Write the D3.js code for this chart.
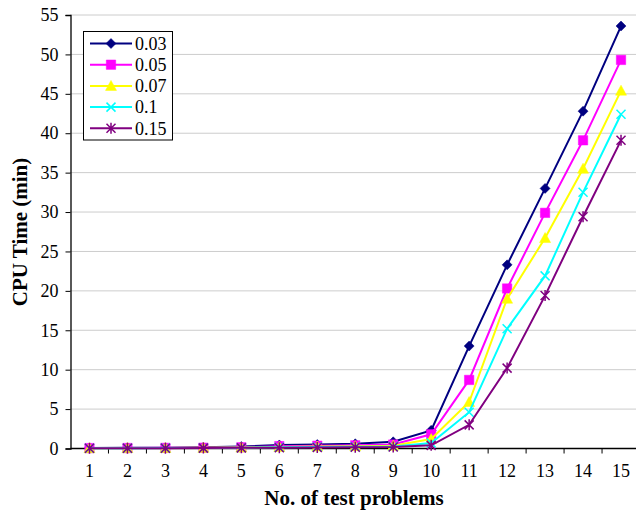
<!DOCTYPE html>
<html>
<head>
<meta charset="utf-8">
<script src="https://cdn.jsdelivr.net/npm/d3@7"></script>
<style>
  body { margin: 0; background: #fff; }
</style>
</head>
<body>
<svg id="chart" width="636" height="514"></svg>
<script>
// data
var problems = [1, 2, 3, 4, 5, 6, 7, 8, 9, 10, 11, 12, 13, 14, 15];
var seriesNames = ["0.03", "0.05", "0.07", "0.1", "0.15"];
var s003 = [0.05, 0.08, 0.1, 0.15, 0.25, 0.45, 0.5, 0.6, 0.85, 2.3, 13.0, 23.3, 33.0, 42.8, 53.6];
var s005 = [0.05, 0.06, 0.08, 0.1, 0.15, 0.3, 0.35, 0.4, 0.5, 1.8, 8.7, 20.3, 29.9, 39.1, 49.3];
var s007 = [0.04, 0.05, 0.07, 0.08, 0.12, 0.2, 0.25, 0.3, 0.35, 1.2, 5.9, 19.0, 26.7, 35.5, 45.4];
var s010 = [0.03, 0.04, 0.05, 0.06, 0.1, 0.15, 0.18, 0.22, 0.25, 0.7, 4.6, 15.2, 21.9, 32.5, 42.4];
var s015 = [0.02, 0.03, 0.04, 0.05, 0.08, 0.1, 0.12, 0.15, 0.2, 0.4, 3.0, 10.2, 19.4, 29.4, 39.1];
var yTicks = [0, 5, 10, 15, 20, 25, 30, 35, 40, 45, 50, 55];

var allSeries = [s003, s005, s007, s010, s015];
var colors = ["#000080", "#ff00ff", "#ffff00", "#00ffff", "#800080"];
var markers = ["diamond", "square", "triangle", "cross", "star"];

var serif = "'Liberation Serif', 'Times New Roman', Times, serif";
var plotLeft = 70.5, plotRight = 640, plotTop = 15, plotBottom = 448.5;

var svg = d3.select("#chart");

var x = d3.scaleBand()
    .domain(problems)
    .range([plotLeft, plotRight])
    .padding(0);

var y = d3.scaleLinear()
    .domain([0, 55])
    .range([plotBottom, plotTop]);

// gridlines
svg.append("g")
    .selectAll("line")
    .data(yTicks.filter(function(d) { return d > 0; }))
    .enter().append("line")
    .attr("x1", plotLeft)
    .attr("x2", plotRight)
    .attr("y1", function(d) { return y(d); })
    .attr("y2", function(d) { return y(d); })
    .attr("stroke", "#999")
    .attr("stroke-width", 1)
    .attr("stroke-dasharray", "1,1");

// y axis
var yAxis = d3.axisLeft(y).tickValues(yTicks).tickSize(5).tickPadding(7);
var gy = svg.append("g")
    .attr("transform", "translate(" + plotLeft + ",0)")
    .call(yAxis);
gy.select(".domain").attr("stroke", "#000").attr("stroke-width", 1.3);
gy.selectAll(".tick line").attr("stroke", "#000");
gy.selectAll(".tick text")
    .style("font-family", serif)
    .style("font-size", "18px")
    .attr("fill", "#000");

// x axis (labels centred, ticks between categories)
var xAxis = d3.axisBottom(x).tickSize(0).tickPadding(16);
var gx = svg.append("g")
    .attr("transform", "translate(0," + plotBottom + ")")
    .call(xAxis);
gx.select(".domain").remove();
gx.selectAll(".tick text")
    .style("font-family", serif)
    .style("font-size", "18px")
    .attr("fill", "#000");
gx.append("line")
    .attr("x1", plotLeft).attr("x2", plotRight)
    .attr("stroke", "#000").attr("stroke-width", 1.3);
gx.selectAll(".sep")
    .data(problems)
    .enter().append("line")
    .attr("class", "sep")
    .attr("x1", function(d) { return x(d) + x.bandwidth(); })
    .attr("x2", function(d) { return x(d) + x.bandwidth(); })
    .attr("y1", 0).attr("y2", 5)
    .attr("stroke", "#000");

// marker shapes
function markerPath(type) {
    if (type === "diamond") return "M0,-5L5,0L0,5L-5,0Z";
    if (type === "square") return "M-4.7,-4.7H4.7V4.7H-4.7Z";
    if (type === "triangle") return "M0,-5.5L5.5,4.5H-5.5Z";
    if (type === "cross") return "M-4.5,-4.5L4.5,4.5M-4.5,4.5L4.5,-4.5";
    return "M-4.5,-4.5L4.5,4.5M-4.5,4.5L4.5,-4.5M0,-5.5V5.5";
}

function drawMarker(sel, i) {
    var open = markers[i] === "cross" || markers[i] === "star";
    sel.append("path")
        .attr("d", markerPath(markers[i]))
        .attr("fill", open ? "none" : colors[i])
        .attr("stroke", colors[i])
        .attr("stroke-width", open ? 1.5 : 0.5);
}

var line = d3.line()
    .x(function(d, j) { return x(problems[j]) + x.bandwidth() / 2; })
    .y(function(d) { return y(d); });

allSeries.forEach(function(vals, i) {
    var g = svg.append("g");
    g.append("path")
        .datum(vals)
        .attr("d", line)
        .attr("fill", "none")
        .attr("stroke", colors[i])
        .attr("stroke-width", 2);
    g.selectAll(".pt")
        .data(vals)
        .enter().append("g")
        .attr("class", "pt")
        .attr("transform", function(d, j) {
            return "translate(" + (x(problems[j]) + x.bandwidth() / 2) + "," + y(d) + ")";
        })
        .each(function() { drawMarker(d3.select(this), i); });
});

// legend
var legend = svg.append("g");
legend.append("rect")
    .attr("x", 83.5).attr("y", 31.5)
    .attr("width", 89).attr("height", 108.5)
    .attr("fill", "#fff")
    .attr("stroke", "#000");
seriesNames.forEach(function(name, i) {
    var ly = 43.5 + i * 21.2;
    var row = legend.append("g");
    row.append("line")
        .attr("x1", 90).attr("x2", 132)
        .attr("y1", ly).attr("y2", ly)
        .attr("stroke", colors[i]).attr("stroke-width", 2);
    var m = row.append("g").attr("transform", "translate(111," + ly + ")");
    drawMarker(m, i);
    row.append("text")
        .attr("x", 135).attr("y", ly)
        .attr("dy", "0.35em")
        .style("font-family", serif)
        .style("font-size", "18px")
        .text(name);
});

// axis titles
svg.append("text")
    .attr("x", 354).attr("y", 505)
    .attr("text-anchor", "middle")
    .style("font-family", serif)
    .style("font-size", "21px")
    .style("font-weight", "bold")
    .text("No. of test problems");

svg.append("text")
    .attr("transform", "translate(27,232) rotate(-90)")
    .attr("text-anchor", "middle")
    .style("font-family", serif)
    .style("font-size", "21px")
    .style("font-weight", "bold")
    .text("CPU Time (min)");
</script>
</body>
</html>
